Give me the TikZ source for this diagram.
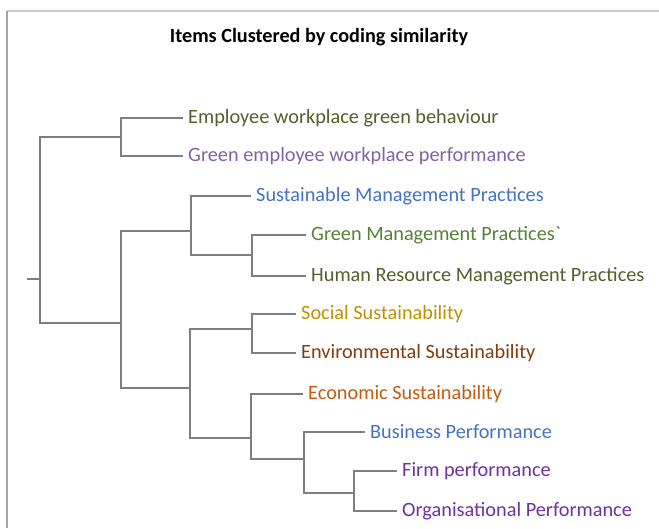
\documentclass[tikz,border=0pt]{standalone}
\usepackage{fontspec}
\setmainfont{Carlito}
\begin{document}
\begin{tikzpicture}[x=1pt,y=-1pt]
\definecolor{colive}{HTML}{4F6228}\definecolor{clilac}{HTML}{8064A2}
\definecolor{cblue}{HTML}{4472C4}\definecolor{cgreen}{HTML}{548235}
\definecolor{cgold}{HTML}{BF9000}\definecolor{cbrown}{HTML}{843C0C}
\definecolor{corange}{HTML}{C55A11}\definecolor{cpurple}{HTML}{7030A0}
\definecolor{cline}{HTML}{7F7F7F}
\tikzset{leaf/.style={anchor=west,inner xsep=5pt,inner ysep=0pt,font=\fontsize{20.3}{22}\selectfont},
 branch/.style={draw=cline,line width=2pt}}
\useasboundingbox (0,0) rectangle (659,528);
% frame
\draw[draw=black!20,line width=1.5pt] (7,11) -- (659,11);
\draw[draw=black!35,line width=1.5pt] (7,11) -- (7,528);
\node[font=\fontsize{20.2}{22}\selectfont\bfseries] (title) at (319,37) {Items Clustered by coding similarity};
% leaves
\node[leaf,text=colive] (emp) at (183,118) {Employee workplace green behaviour};
\node[leaf,text=clilac] (gep) at (183,156) {Green employee workplace performance};
\node[leaf,text=cblue] (smp) at (251,196) {Sustainable Management Practices};
\node[leaf,text=cgreen] (gmp) at (306,235) {Green Management Practices\textasciigrave};
\node[leaf,text=colive] (hrm) at (306,276) {Human Resource Management Practices};
\node[leaf,text=cgold] (soc) at (296,314) {Social Sustainability};
\node[leaf,text=cbrown] (env) at (296,353) {Environmental Sustainability};
\node[leaf,text=corange] (eco) at (303,394) {Economic Sustainability};
\node[leaf,text=cblue] (bus) at (365,432) {Business Performance};
\node[leaf,text=cpurple] (firm) at (397,471) {Firm performance};
\node[leaf,text=cpurple] (org) at (397,511) {Organisational Performance};
% joins
\coordinate (stub) at (27,279);
\coordinate (r) at (40,279);
\coordinate (a) at (121,137);
\coordinate (b) at (121,323);
\coordinate (c) at (191,231);
\coordinate (d) at (252,255);
\coordinate (f) at (190,388);
\coordinate (e) at (252,329);
\coordinate (g) at (251,438);
\coordinate (h) at (304,459);
\coordinate (i) at (354,493);
% branches
\draw[branch] (stub) -- (r);
\draw[branch] (r) |- (a); \draw[branch] (r) |- (b);
\draw[branch] (a) |- (emp.west); \draw[branch] (a) |- (gep.west);
\draw[branch] (b) |- (c); \draw[branch] (b) |- (f);
\draw[branch] (c) |- (smp.west); \draw[branch] (c) |- (d);
\draw[branch] (d) |- (gmp.west); \draw[branch] (d) |- (hrm.west);
\draw[branch] (f) |- (e); \draw[branch] (f) |- (g);
\draw[branch] (e) |- (soc.west); \draw[branch] (e) |- (env.west);
\draw[branch] (g) |- (eco.west); \draw[branch] (g) |- (h);
\draw[branch] (h) |- (bus.west); \draw[branch] (h) |- (i);
\draw[branch] (i) |- (firm.west); \draw[branch] (i) |- (org.west);
\end{tikzpicture}
\end{document}
